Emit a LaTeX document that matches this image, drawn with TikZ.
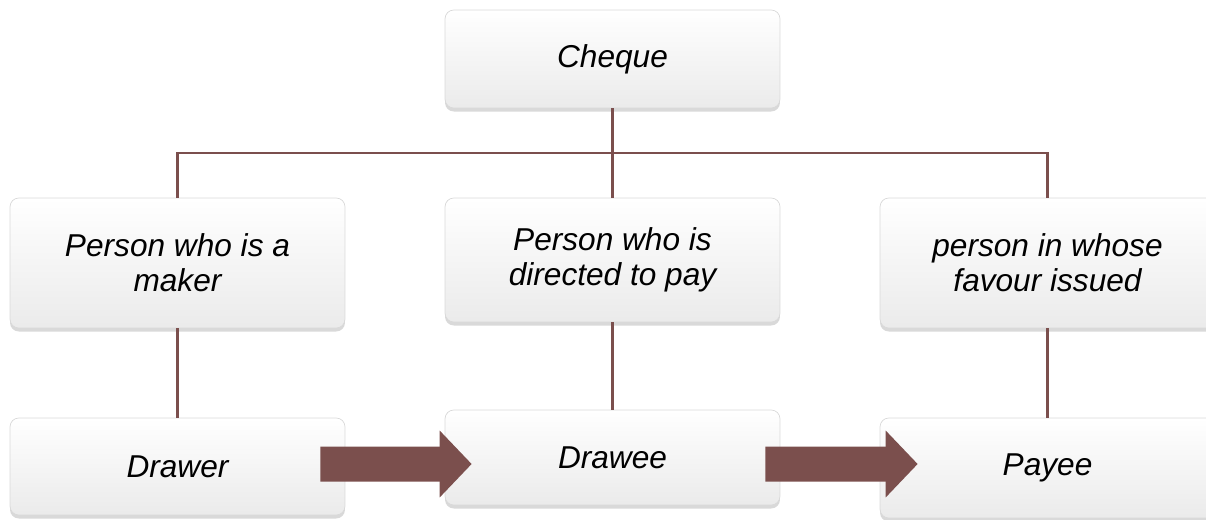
\documentclass[tikz,border=0pt]{standalone}
\usepackage{fontspec}
\setmainfont{Liberation Sans}
\usetikzlibrary{calc,shadows,arrows.meta}

\definecolor{linkbrown}{HTML}{7B4F4D}

\begin{document}
\begin{tikzpicture}[x=0.02cm, y=-0.02cm,
    box/.style={rectangle, rounded corners=5pt, draw=gray!30, top color=white, bottom color=gray!16,
      minimum width=6.7cm, align=center, inner sep=2pt,
      font=\itshape\fontsize{18}{20}\selectfont,
      drop shadow={shadow xshift=0pt, shadow yshift=-2pt, opacity=0.3, fill=gray}},
    link/.style={draw=linkbrown, line width=1.2pt},
    flow/.style={draw=linkbrown, line width=0.7cm, -{Triangle[length=0.64cm, width=1.3cm]}}]
  \useasboundingbox (0,0) rectangle (1206,520);
  % top
  \node[box, minimum height=1.96cm] (cheque) at (612.5,59) {Cheque};
  % descriptions
  \node[box, minimum height=2.6cm] (maker) at (177.5,263) {Person who is a\\maker};
  \node[box, minimum height=2.48cm] (directed) at (612.5,260) {Person who is\\directed to pay};
  \node[box, minimum height=2.6cm] (favour) at (1047.5,263) {person in whose\\favour issued};
  % parties
  \node[box, minimum height=1.94cm] (drawer) at (177.5,466.5) {Drawer};
  \node[box, minimum height=1.9cm] (drawee) at (612.5,457.5) {Drawee};
  \node[box, minimum height=2cm] (payee) at (1047.5,468) {Payee};
  % tree lines
  \coordinate (bus) at (612.5,153);
  \draw[link] (cheque) -- (bus);
  \draw[link] (maker.north) |- (bus) -| (favour.north);
  \draw[link] (bus) -- (directed.north);
  \draw[link] (maker) -- (drawer);
  \draw[link] (directed) -- (drawee);
  \draw[link] (favour) -- (payee);
  % flow arrows
  \draw[flow] ($(drawer.east)+(-25,-2.5)$) -- ($(drawee.west)+(27,6.5)$);
  \draw[flow] ($(drawee.east)+(-15,6.5)$) -- ($(payee.west)+(38,-4)$);
\end{tikzpicture}
\end{document}
